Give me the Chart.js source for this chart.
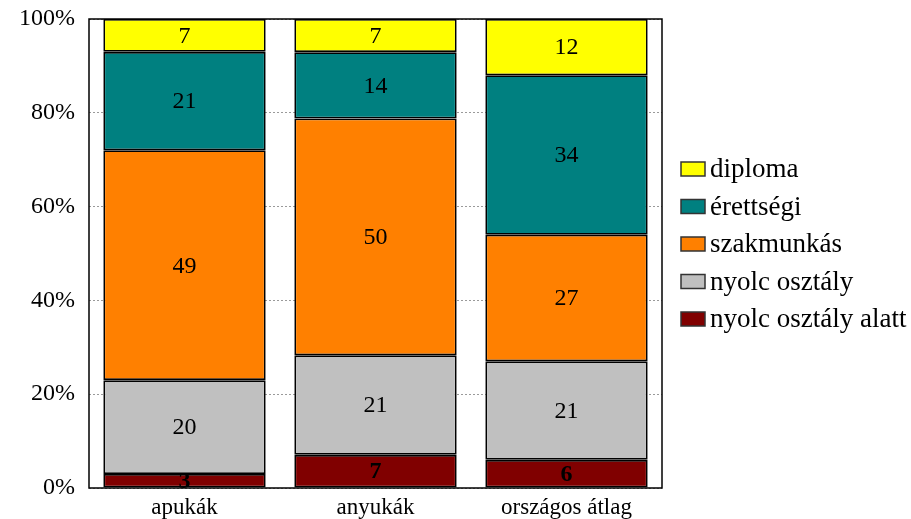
<!DOCTYPE html>
<html>
<head>
<meta charset="utf-8">
<script src="https://cdn.jsdelivr.net/npm/chart.js@4/dist/chart.umd.min.js"></script>
<style>
  html, body { margin: 0; padding: 0; background: #fff; }
  #wrap { width: 911px; height: 519px; position: relative; }
</style>
</head>
<body>
<div id="wrap"><canvas id="c" width="911" height="519"></canvas></div>
<script>
// Iskolai végzettség megoszlása (%)
const categories = ['apukák', 'anyukák', 'országos átlag'];

const nyolcOsztalyAlatt = [3, 7, 6];
const nyolcOsztaly      = [20, 21, 21];
const szakmunkas        = [49, 50, 27];
const erettsegi         = [21, 14, 34];
const diploma           = [7, 7, 12];

const seriesNames  = ['nyolc osztály alatt', 'nyolc osztály', 'szakmunkás', 'érettségi', 'diploma'];
const seriesValues = [nyolcOsztalyAlatt, nyolcOsztaly, szakmunkas, erettsegi, diploma];
const seriesColors = ['#800000', '#C0C0C0', '#FF8000', '#008080', '#FFFF00'];

const yTicks = [0, 20, 40, 60, 80, 100];

// column totals, so each stack fills 100%
const totals = categories.map((_, i) => seriesValues.reduce((s, arr) => s + arr[i], 0));

const FONT = '"Liberation Serif", "Times New Roman", serif';

const datasets = seriesNames.map((name, k) => ({
  label: name,
  raw: seriesValues[k],
  data: seriesValues[k].map((v, i) => v / totals[i] * 100),
  backgroundColor: seriesColors[k],
  borderColor: '#000',
  borderWidth: 1.8,
  borderSkipped: false,
  barPercentage: 0.85,
  categoryPercentage: 1.0
}));

// frame around the plot area
const frame = {
  id: 'frame',
  afterDatasetsDraw(chart) {
    const a = chart.chartArea, ctx = chart.ctx;
    ctx.save();
    ctx.strokeStyle = '#000';
    ctx.lineWidth = 1.5;
    ctx.strokeRect(a.left, a.top, a.right - a.left, a.bottom - a.top);
    ctx.restore();
  }
};

// numbers written in the middle of each segment
const segmentLabels = {
  id: 'segmentLabels',
  afterDraw(chart) {
    const ctx = chart.ctx;
    ctx.save();
    ctx.textAlign = 'center';
    ctx.textBaseline = 'middle';
    ctx.fillStyle = '#000';
    chart.data.datasets.forEach((ds, k) => {
      const meta = chart.getDatasetMeta(k);
      ctx.font = (k === 0 ? 'bold ' : '') + '24px ' + FONT;
      meta.data.forEach((bar, i) => {
        const yc = (bar.y + bar.base) / 2;
        ctx.fillText(String(ds.raw[i]), bar.x, yc + 1);
      });
    });
    ctx.restore();
  }
};

// legend on the right, top entry = top segment
const sideLegend = {
  id: 'sideLegend',
  afterDraw(chart) {
    const ctx = chart.ctx;
    const items = chart.data.datasets.map(d => d).reverse();
    const x0 = 681, y0 = 169, step = 37.5;
    ctx.save();
    ctx.textAlign = 'left';
    ctx.textBaseline = 'middle';
    ctx.font = '27px ' + FONT;
    items.forEach((ds, j) => {
      const y = y0 + j * step;
      ctx.fillStyle = ds.backgroundColor;
      ctx.fillRect(x0, y - 7, 24, 14);
      ctx.strokeStyle = '#333';
      ctx.lineWidth = 1.5;
      ctx.strokeRect(x0, y - 7, 24, 14);
      ctx.fillStyle = '#000';
      ctx.fillText(ds.label, x0 + 29, y + 1);
    });
    ctx.restore();
  }
};

new Chart(document.getElementById('c'), {
  type: 'bar',
  data: { labels: categories, datasets },
  plugins: [frame, segmentLabels, sideLegend],
  options: {
    responsive: false,
    animation: false,
    devicePixelRatio: 1,
    layout: { padding: { top: 19, right: 249, left: 0, bottom: 0 } },
    plugins: { legend: { display: false }, tooltip: { enabled: false } },
    scales: {
      x: {
        stacked: true,
        grid: { display: false, drawTicks: false },
        border: { display: false },
        ticks: { color: '#000', font: { family: FONT, size: 23 }, padding: 6 },
        afterFit(s) { s.height = 31; s.paddingLeft = 0; s.paddingRight = 0; }
      },
      y: {
        stacked: true,
        min: 0, max: 100,
        afterBuildTicks(s) { s.ticks = yTicks.map(v => ({ value: v })); },
        grid: { color: '#9a9a9a', lineWidth: 1, drawTicks: false },
        border: { display: false, dash: [2, 2] },
        ticks: {
          color: '#000',
          font: { family: FONT, size: 24 },
          padding: 14,
          callback: v => v + '%'
        },
        afterFit(s) { s.width = 89; s.paddingTop = 0; s.paddingBottom = 0; }
      }
    }
  }
});
</script>
</body>
</html>
